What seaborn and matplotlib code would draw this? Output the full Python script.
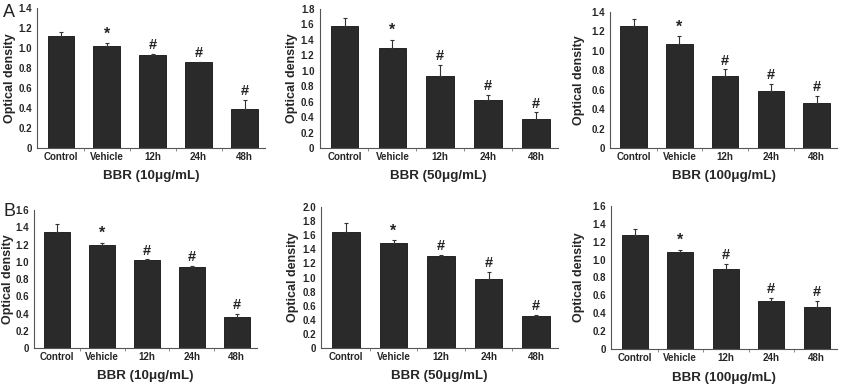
import matplotlib
matplotlib.use("Agg")
import matplotlib.pyplot as plt
import seaborn as sns
import numpy as np
import pandas as pd
from matplotlib.ticker import FuncFormatter, MultipleLocator, FixedLocator

categories = ["Control", "Vehicle", "12h", "24h", "48h"]
marks = ["", "*", "#", "#", "#"]

a1_vals = [1.12, 1.02, 0.93, 0.86, 0.39]
a1_err = [0.04, 0.03, 0.01, 0.005, 0.09]
a2_vals = [1.58, 1.29, 0.93, 0.62, 0.37]
a2_err = [0.10, 0.11, 0.15, 0.07, 0.09]
a3_vals = [1.26, 1.07, 0.74, 0.59, 0.46]
a3_err = [0.07, 0.08, 0.07, 0.07, 0.08]
b1_vals = [1.35, 1.19, 1.02, 0.94, 0.36]
b1_err = [0.09, 0.03, 0.01, 0.01, 0.04]
b2_vals = [1.65, 1.49, 1.30, 0.98, 0.45]
b2_err = [0.12, 0.04, 0.02, 0.10, 0.02]
b3_vals = [1.28, 1.08, 0.90, 0.54, 0.47]
b3_err = [0.06, 0.03, 0.05, 0.03, 0.07]

xlabels = ["BBR (10μg/mL)", "BBR (50μg/mL)", "BBR (100μg/mL)"]
ytops = [1.4, 1.8, 1.4, 1.6, 2.0, 1.6]

sns.set_theme(style="white")
plt.rcParams['font.family'] = ['Liberation Sans', 'DejaVu Sans']

W, H = 850, 387
fig = plt.figure(figsize=(8.5, 3.87), dpi=100)

positions = [
    [0.0435, 0.6176, 0.312 - 0.0435, 0.979 - 0.6176],
    [0.376, 0.6176, 0.656 - 0.376, 0.977 - 0.6176],
    [0.7176, 0.6176, 0.985 - 0.7176, 0.969 - 0.6176],
    [0.040, 0.1008, 0.302 - 0.040, 0.457 - 0.1008],
    [0.378, 0.1008, 0.656 - 0.378, 0.465 - 0.1008],
    [0.719, 0.098, 0.985 - 0.719, 0.468 - 0.098],
]
label_offsets = [21, 22, 25, 20, 22, 26]
data = [(a1_vals, a1_err), (a2_vals, a2_err), (a3_vals, a3_err),
        (b1_vals, b1_err), (b2_vals, b2_err), (b3_vals, b3_err)]

fmt = FuncFormatter(lambda v, p: "0" if abs(v) < 1e-9 else f"{v:.1f}")

for i, (pos, (vals, errs)) in enumerate(zip(positions, data)):
    ax = fig.add_axes(pos)
    df = pd.DataFrame({"group": categories, "od": vals})
    sns.barplot(data=df, x="group", y="od", color="#2a2a2a", saturation=1,
                width=0.58, edgecolor="#111111", linewidth=0.6, errorbar=None, ax=ax)
    xs = np.arange(len(categories))
    ax.errorbar(xs, vals, yerr=[np.zeros(len(errs)), errs], fmt="none",
                ecolor="#333333", elinewidth=0.8, capsize=1.5, capthick=0.8)
    for x, v, e, m in zip(xs, vals, errs, marks):
        if m:
            ax.text(x, v + e + 0.012 * ytops[i], m, ha="center", va="bottom",
                    fontsize=10.5 if m == "#" else 11.5, fontweight="bold", color="#222222")
    ax.set_xlim(-0.52, 4.45)
    ax.set_ylim(0, ytops[i])
    ax.yaxis.set_major_locator(MultipleLocator(0.2))
    ax.yaxis.set_major_formatter(fmt)
    ax.xaxis.set_minor_locator(FixedLocator([0.5, 1.5, 2.5, 3.5]))
    for s in ["top", "right"]:
        ax.spines[s].set_visible(False)
    for s in ["left", "bottom"]:
        ax.spines[s].set_color("#555555")
        ax.spines[s].set_linewidth(0.8)
    ax.tick_params(axis="y", direction="out", length=2.5, width=0.7, color="#555555",
                   labelsize=7, pad=1.2)
    ax.tick_params(axis="x", which="major", length=0, labelsize=7, pad=3)
    ax.tick_params(axis="x", which="minor", length=2, width=0.6, color="#777777",
                   direction="out", bottom=True)
    for lab in ax.get_xticklabels() + ax.get_yticklabels():
        lab.set_fontweight("bold")
    ax.set_ylabel("Optical density", fontsize=9, fontweight="bold")
    width_px = pos[2] * W
    ax.yaxis.set_label_coords(-label_offsets[i] / width_px, 0.5)
    ax.set_xlabel(xlabels[i % 3], fontsize=9.6, fontweight="bold", labelpad=6)

fig.text(0.004, 0.99, "A", fontsize=13, color="#222222", va="top")
fig.text(0.004, 0.476, "B", fontsize=13, color="#222222", va="top")

fig.savefig("out.png", dpi=100)
